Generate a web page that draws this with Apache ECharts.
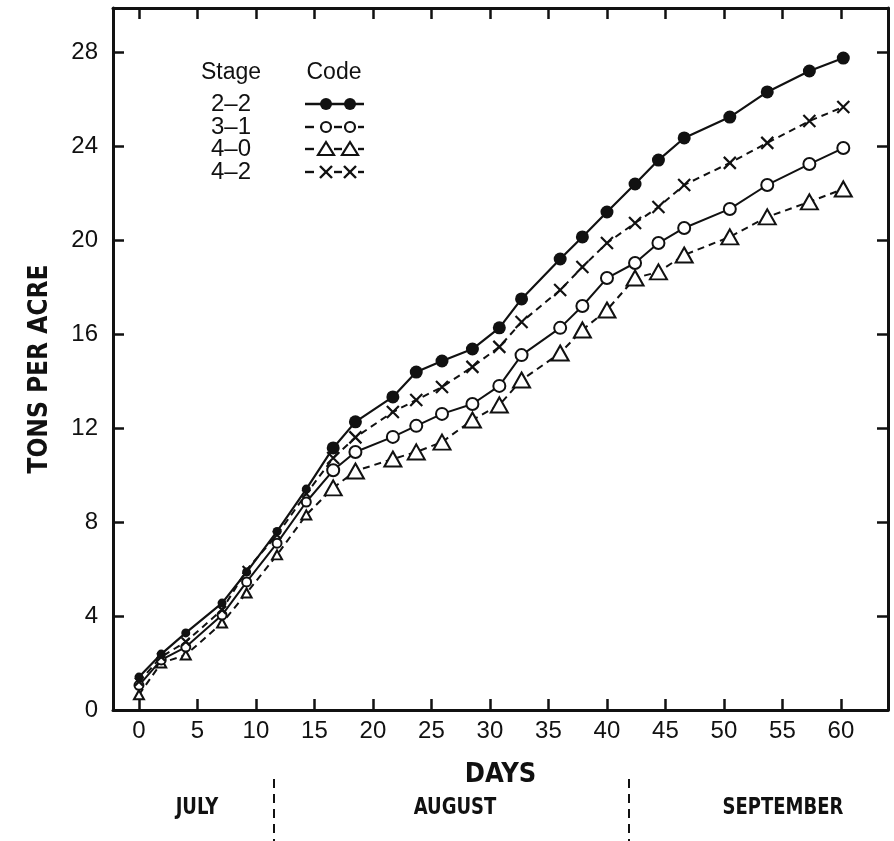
<!DOCTYPE html>
<html><head><meta charset="utf-8">
<script src="https://cdn.jsdelivr.net/npm/echarts@6/dist/echarts.min.js"></script>
<style>html,body{margin:0;padding:0;background:#fff}#c{width:894px;height:841px}</style>
</head><body><div id="c"></div>
<script>
// ---- data ----
const days = [0, 1.9, 4.0, 7.1, 9.2, 11.8, 14.3, 16.6, 18.5, 21.7, 23.7, 25.9, 28.5, 30.8, 32.7, 36.0, 37.9, 40.0, 42.4, 44.4, 46.6, 50.5, 53.7, 57.3, 60.2];
const stage22 = [1.40, 2.38, 3.28, 4.55, 5.87, 7.6, 9.4, 11.15, 12.26, 13.32, 14.38, 14.85, 15.36, 16.26, 17.49, 19.19, 20.13, 21.19, 22.38, 23.40, 24.34, 25.23, 26.30, 27.19, 27.74];
const stage31 = [1.05, 2.13, 2.68, 4.04, 5.45, 7.1, 8.85, 10.2, 10.98, 11.62, 12.09, 12.6, 13.02, 13.79, 15.1, 16.26, 17.19, 18.38, 19.02, 19.87, 20.51, 21.32, 22.34, 23.23, 23.91];
const stage40 = [0.65, 2.0, 2.34, 3.70, 4.98, 6.6, 8.3, 9.45, 10.17, 10.68, 10.98, 11.4, 12.34, 12.98, 14.04, 15.19, 16.17, 17.02, 18.38, 18.64, 19.36, 20.13, 20.98, 21.62, 22.17];
const stage42 = [1.2, 2.26, 2.9, 4.26, 5.96, 7.45, 9.2, 10.72, 11.6, 12.68, 13.19, 13.74, 14.6, 15.45, 16.51, 17.87, 18.85, 19.87, 20.72, 21.4, 22.34, 23.28, 24.13, 25.06, 25.66];
const stageNames = ['2-2', '3-1', '4-0', '4-2'];
const xTickValues = [0, 5, 10, 15, 20, 25, 30, 35, 40, 45, 50, 55, 60];
const yTickValues = [0, 4, 8, 12, 16, 20, 24, 28];
const monthNames = ['JULY', 'AUGUST', 'SEPTEMBER'];
const xTitle = 'DAYS';
const yTitle = 'TONS PER ACRE';

// ---- chart ----
const INK = '#111';
const FONT = "'Liberation Sans', Arial, sans-serif";
const BOLD = "'Liberation Sans Narrow', 'DejaVu Sans Condensed', 'Liberation Sans', sans-serif";
const XSYM = 'path://M0,0L10,10M10,0L0,10';
const pairs = arr => days.map((d, i) => [d, arr[i]]);
const small = v => v[0] < 15;

const chart = echarts.init(document.getElementById('c'), null, {renderer: 'canvas'});
const axisLine = {show: true, onZero: false, lineStyle: {color: INK, width: 3}};
const tickStyle = {color: INK, width: 2.5};

const series = [
  {name: stageNames[0], type: 'line', data: pairs(stage22), symbol: 'circle',
   symbolSize: v => small(v) ? 9 : 13,
   lineStyle: {color: INK, width: 2.2}, itemStyle: {color: INK}, z: 5},
  {name: stageNames[1], type: 'line', data: pairs(stage31), symbol: 'emptyCircle',
   symbolSize: v => small(v) ? 9 : 12,
   lineStyle: {color: INK, width: 2}, itemStyle: {color: INK, borderColor: INK, borderWidth: 2}, z: 4},
  {name: stageNames[2], type: 'line', data: pairs(stage40), symbol: 'emptyTriangle',
   symbolSize: v => small(v) ? [10, 9] : [17, 15],
   lineStyle: {color: INK, width: 2, type: [7, 5]}, itemStyle: {color: INK, borderColor: INK, borderWidth: 2}, z: 3},
  {name: stageNames[3], type: 'line', data: pairs(stage42), symbol: XSYM,
   symbolSize: v => small(v) ? 8 : 12,
   lineStyle: {color: INK, width: 2, type: [7, 5]}, itemStyle: {color: INK, borderColor: INK, borderWidth: 2.2}, z: 4}
];

// legend drawn as graphic
const lg = [];
const LX = 231, CX = 334, HY = 73, rows = [104, 127, 149, 172];
const LFONT = '23px ' + FONT;
lg.push({type: 'text', x: LX, y: HY, style: {text: 'Stage', font: LFONT, fill: INK, textAlign: 'center', textVerticalAlign: 'middle'}});
lg.push({type: 'text', x: CX, y: HY, style: {text: 'Code', font: LFONT, fill: INK, textAlign: 'center', textVerticalAlign: 'middle'}});
stageNames.forEach((n, i) => {
  lg.push({type: 'text', x: LX, y: rows[i], style: {text: n.replace('-', '–'), font: '24px ' + FONT, fill: INK, textAlign: 'center', textVerticalAlign: 'middle'}});
});
const segStyle = {stroke: INK, lineWidth: 2.4};
// row 1: solid line + filled dots
lg.push({type: 'line', shape: {x1: 305, y1: rows[0], x2: 364, y2: rows[0]}, style: segStyle});
[326, 350].forEach(x => lg.push({type: 'circle', shape: {cx: x, cy: rows[0], r: 6}, style: {fill: INK}}));
// rows 2-4: short segments + symbols
const syms = [326, 350];
[1, 2, 3].forEach(r => {
  const y = rows[r];
  [[305, 314], [334, 342], [358, 364]].forEach(s => lg.push({type: 'line', shape: {x1: s[0], y1: y, x2: s[1], y2: y}, style: segStyle}));
  syms.forEach(x => {
    if (r === 1) lg.push({type: 'circle', shape: {cx: x, cy: y, r: 5}, style: {fill: '#fff', stroke: INK, lineWidth: 2.2}});
    if (r === 2) lg.push({type: 'polygon', shape: {points: [[x, y - 7], [x + 8, y + 6], [x - 8, y + 6]]}, style: {fill: '#fff', stroke: INK, lineWidth: 2.2}});
    if (r === 3) lg.push({type: 'polyline', shape: {points: [[x - 6, y - 6], [x + 6, y + 6]]}, style: segStyle},
                         {type: 'polyline', shape: {points: [[x + 6, y - 6], [x - 6, y + 6]]}, style: segStyle});
  });
});
// month band
const monthX = [197, 455, 783];
monthNames.forEach((m, i) => lg.push({type: 'text', x: monthX[i], y: 808, scaleX: 0.87,
  style: {text: m, font: 'bold 23px ' + BOLD, fill: INK, textAlign: 'center', textVerticalAlign: 'middle'}}));
[274, 629].forEach(x => lg.push({type: 'line', shape: {x1: x, y1: 779, x2: x, y2: 841}, style: {stroke: INK, lineWidth: 2, lineDash: [9, 6]}}));

chart.setOption({
  animation: false,
  backgroundColor: '#fff',
  grid: {left: 113, right: 6, top: 8, bottom: 131, containLabel: false},
  xAxis: [
    {type: 'value', position: 'bottom', min: -2.22, max: 64.02,
     axisLine, splitLine: {show: false},
     axisTick: {show: true, inside: true, length: 11, lineStyle: tickStyle, customValues: xTickValues},
     axisLabel: {show: true, customValues: xTickValues, margin: 9, color: INK, fontSize: 24, fontFamily: FONT},
     name: xTitle, nameLocation: 'middle', nameGap: 51,
     nameTextStyle: {fontSize: 27, fontWeight: 'bold', fontFamily: BOLD, color: INK}},
    {type: 'value', position: 'top', min: -2.22, max: 64.02,
     axisLine, splitLine: {show: false},
     axisTick: {show: true, inside: true, length: 11, lineStyle: tickStyle, customValues: xTickValues},
     axisLabel: {show: false}}
  ],
  yAxis: [
    {type: 'value', position: 'left', min: 0, max: 29.87,
     axisLine, splitLine: {show: false},
     axisTick: {show: true, inside: true, length: 11, lineStyle: tickStyle, customValues: yTickValues},
     axisLabel: {show: true, customValues: yTickValues, margin: 15, color: INK, fontSize: 24, fontFamily: FONT},
     name: yTitle, nameLocation: 'middle', nameGap: 60, nameRotate: 90,
     nameTextStyle: {fontSize: 26, fontWeight: 'bold', fontFamily: BOLD, color: INK, padding: [0, 20, 0, 0]}},
    {type: 'value', position: 'right', min: 0, max: 29.87,
     axisLine, splitLine: {show: false},
     axisTick: {show: true, inside: true, length: 11, lineStyle: tickStyle, customValues: yTickValues},
     axisLabel: {show: false}}
  ],
  series,
  graphic: lg
});
</script></body></html>
